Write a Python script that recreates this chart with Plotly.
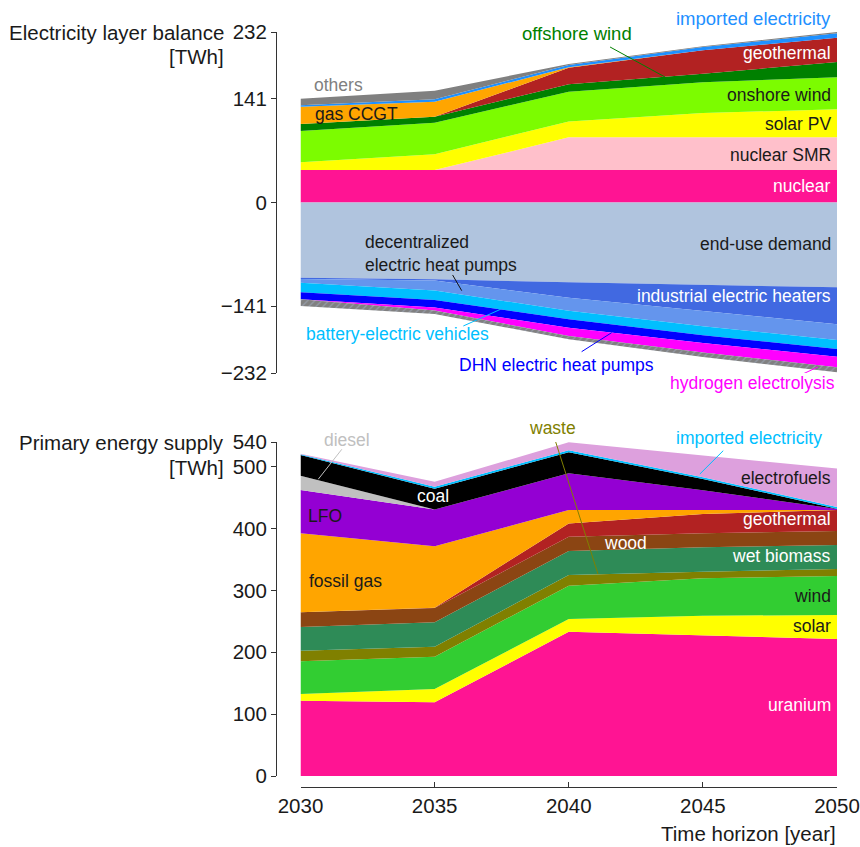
import plotly.graph_objects as go

years = [2030, 2035, 2040, 2045, 2050]

# Electricity layer balance [TWh] - supply side (stacked upward)
elec_nuclear = [44.2, 44.2, 44.2, 44.2, 44.2]
elec_nuclear_smr = [0.0, 0.0, 44.5, 44.5, 44.5]
elec_solar_pv = [10.5, 21.4, 21.5, 33.0, 38.1]
elec_onshore_wind = [42.6, 43.0, 40.5, 42.0, 43.5]
elec_offshore_wind = [9.5, 8.1, 10.3, 11.5, 20.9]
elec_geothermal = [0.0, 0.0, 22.5, 32.0, 33.0]
elec_gas_ccgt = [23.5, 20.4, 0.5, 0.0, 0.0]
elec_imported = [1.9, 3.3, 3.0, 4.5, 6.0]
elec_others = [9.0, 11.7, 1.5, 1.0, 1.8]

# Electricity layer balance [TWh] - consumption side (stacked downward)
elec_end_use = [-102.3, -104.5, -108.6, -112.2, -115.4]
elec_industrial_heaters = [-1.7, -1.8, -20.9, -35.5, -50.3]
elec_decentral_hp = [-5.1, -13.6, -17.7, -20.8, -21.4]
elec_bev = [-13.1, -12.7, -11.8, -12.3, -12.2]
elec_dhn_hp = [-9.5, -10.4, -11.3, -10.4, -10.5]
elec_h2_electrolysis = [0.0, -4.1, -11.3, -13.0, -14.4]
elec_other_uses = [-9.1, -4.5, -4.5, -6.0, -6.8]

# Primary energy supply [TWh]
prim_uranium = [121.7, 119.1, 233.3, 227.5, 221.5]
prim_solar = [10.9, 21.6, 20.5, 31.7, 38.8]
prim_wind = [52.8, 52.2, 53.8, 60.4, 63.1]
prim_waste = [17.2, 16.2, 17.2, 10.8, 11.3]
prim_wet_biomass = [38.3, 39.4, 38.8, 39.3, 38.8]
prim_wood = [23.8, 23.1, 23.2, 22.7, 22.6]
prim_geothermal = [0.0, 0.5, 21.6, 31.0, 34.0]
prim_fossil_gas = [127.7, 99.3, 21.6, 6.5, 0.0]
prim_lfo = [70.0, 59.3, 59.3, 32.0, 1.5]
prim_diesel = [23.1, 0.0, 0.0, 0.0, 0.0]
prim_coal = [33.5, 33.9, 34.0, 18.3, 0.5]
prim_imported = [1.0, 3.0, 3.2, 3.0, 3.0]
prim_electrofuels = [1.0, 8.0, 13.0, 35.0, 62.0]

elec_ticks = [-232, -141, 0, 141, 232]
elec_ticktext = ["\u2212232", "\u2212141", "0", "141", "232"]
prim_ticks = [0, 100, 200, 300, 400, 500, 540]

FONT = "Arial, 'Liberation Sans', sans-serif"
W, H = 860, 847
LABEL = 17.5
AXFONT = 20.5


def px_x(p):
    return p / W


def px_y(p):
    return 1 - p / H


X_DOM = [px_x(300.5), px_x(837)]
X_RANGE = [2030, 2050]
Y1_DOM = [px_y(373), px_y(32)]
Y1_RANGE = [-232, 232]
Y2_DOM = [px_y(776), px_y(442)]
Y2_RANGE = [0, 540]
Y_POS = px_x(276)
AXCOL = "#333333"
TXT = "#1a1a1a"


def to_paper(v, dom, rng):
    return dom[0] + (v - rng[0]) / (rng[1] - rng[0]) * (dom[1] - dom[0])


fig = go.Figure()


def stack(xa, ya, group, name, values, color, pattern=None):
    kw = {}
    if pattern is not None:
        kw["fillpattern"] = pattern
    fig.add_trace(go.Scatter(
        x=years, y=values, xaxis=xa, yaxis=ya, stackgroup=group, name=name,
        mode="lines", line=dict(width=0, color=color), fillcolor=color,
        hoverinfo="skip", **kw))


# electricity supply
for name, vals, col in [
    ("nuclear", elec_nuclear, "#FF1493"),
    ("nuclear SMR", elec_nuclear_smr, "#FFC0CB"),
    ("solar PV", elec_solar_pv, "#FFFF00"),
    ("onshore wind", elec_onshore_wind, "#7CFC00"),
    ("offshore wind", elec_offshore_wind, "#008000"),
    ("geothermal", elec_geothermal, "#B22222"),
    ("gas CCGT", elec_gas_ccgt, "#FFA500"),
    ("imported electricity", elec_imported, "#1E90FF"),
    ("others", elec_others, "#808080"),
]:
    stack("x", "y", "supply", name, vals, col)

# electricity consumption
for name, vals, col in [
    ("end-use demand", elec_end_use, "#B0C4DE"),
    ("industrial electric heaters", elec_industrial_heaters, "#4169E1"),
    ("decentralized electric heat pumps", elec_decentral_hp, "#6495ED"),
    ("battery-electric vehicles", elec_bev, "#00BFFF"),
    ("DHN electric heat pumps", elec_dhn_hp, "#0000FF"),
    ("hydrogen electrolysis", elec_h2_electrolysis, "#FF00FF"),
]:
    stack("x", "y", "demand", name, vals, col)
stack("x", "y", "demand", "other uses", elec_other_uses, "#808080",
      pattern=dict(shape="/", bgcolor="#808080", fgcolor="#A8B8D0", size=5, solidity=0.25))

# primary energy
for name, vals, col in [
    ("uranium", prim_uranium, "#FF1493"),
    ("solar", prim_solar, "#FFFF00"),
    ("wind", prim_wind, "#32CD32"),
    ("waste", prim_waste, "#808000"),
    ("wet biomass", prim_wet_biomass, "#2E8B57"),
    ("wood", prim_wood, "#8B4513"),
    ("geothermal", prim_geothermal, "#B22222"),
    ("fossil gas", prim_fossil_gas, "#FFA500"),
    ("LFO", prim_lfo, "#9400D3"),
    ("diesel", prim_diesel, "#C0C0C0"),
    ("coal", prim_coal, "#000000"),
    ("imported electricity", prim_imported, "#00BFFF"),
    ("electrofuels", prim_electrofuels, "#DDA0DD"),
]:
    stack("x2", "y2", "primary", name, vals, col)

common_y = dict(anchor="free", position=Y_POS, ticks="outside", ticklen=5, tickwidth=1,
                tickcolor=AXCOL, showline=True, linecolor=AXCOL, linewidth=1,
                showgrid=False, zeroline=False, automargin=False,
                tickfont=dict(size=AXFONT, color=TXT))

fig.update_layout(
    width=W, height=H, margin=dict(l=0, r=0, t=0, b=0, pad=0), autosize=False,
    paper_bgcolor="white", plot_bgcolor="white", showlegend=False,
    font=dict(family=FONT, size=AXFONT, color=TXT),
    xaxis=dict(domain=X_DOM, range=X_RANGE, visible=False, anchor="y", automargin=False),
    yaxis=dict(domain=Y1_DOM, range=Y1_RANGE,
               tickvals=elec_ticks, ticktext=elec_ticktext, **common_y),
    xaxis2=dict(domain=X_DOM, range=X_RANGE, anchor="free", position=px_y(787),
                tickvals=years, ticks="inside", ticklen=5, tickwidth=1, tickcolor=AXCOL,
                showline=True, linecolor=AXCOL, linewidth=1, showgrid=False,
                zeroline=False, automargin=False, tickfont=dict(size=AXFONT, color=TXT)),
    yaxis2=dict(domain=Y2_DOM, range=Y2_RANGE,
                tickvals=prim_ticks, **common_y),
)


def label(text, x, y, panel=None, color=TXT, anchor="right", size=LABEL):
    """Place a text label; panel 1/2 means x, y are in that panel's data units."""
    if panel is not None:
        yd, yr = (Y1_DOM, Y1_RANGE) if panel == 1 else (Y2_DOM, Y2_RANGE)
        x = to_paper(x, X_DOM, X_RANGE)
        y = to_paper(y, yd, yr)
    fig.add_annotation(text=text, x=x, y=y, xref="paper", yref="paper", showarrow=False,
                       xanchor=anchor, yanchor="middle", align=anchor,
                       font=dict(size=size, color=color, family=FONT))


def leader(x0, y0, x1, y1, xr, yr, color):
    fig.add_shape(type="line", x0=x0, y0=y0, x1=x1, y1=y1, xref=xr, yref=yr,
                  line=dict(color=color, width=1))


# axis titles
label("Electricity layer balance", px_x(226), px_y(32), size=AXFONT)
label("[TWh]", px_x(226), px_y(57), size=AXFONT)
label("Primary energy supply", px_x(226), px_y(442), size=AXFONT)
label("[TWh]", px_x(226), px_y(467), size=AXFONT)
label("Time horizon [year]", px_x(838), px_y(833), size=AXFONT)

# electricity layer labels
XR = 2049.85
label("imported electricity", XR, 251, 1, color="#1E90FF", size=18.5)
label("geothermal", XR, 203.4, 1, color="white")
label("onshore wind", XR, 146.3, 1)
label("solar PV", XR, 106.8, 1)
label("nuclear SMR", XR, 64.6, 1)
label("nuclear", XR, 22.4, 1, color="white")
label("end-use demand", XR, -56.5, 1)
label("industrial electric heaters", XR, -127.2, 1, color="white")
label("hydrogen electrolysis", 2050, -245.6, 1, color="#FF00FF")
label("DHN electric heat pumps", 2035.83, -221, 1, color="#0000FF", anchor="left")
label("battery-electric vehicles", 2030.13, -178.9, 1, color="#00BFFF", anchor="left")
label("decentralized<br>electric heat pumps", 2032.33, -70, 1, anchor="left")
label("others", 2030.43, 159.9, 1, color="#808080", anchor="left")
label("gas CCGT", 2030.47, 120.4, 1, anchor="left")
label("offshore wind", 2040.31, 230.6, 1, color="#008000", anchor="center", size=18.5)

leader(2041.54, 211.6, 2043.59, 170.7, "x", "y", "#008000")
leader(2035.67, -98.6, 2036.01, -120, "x", "y", "#111111")
leader(2036.07, -168, 2037.46, -145.3, "x", "y", "#00BFFF")
leader(2040.48, -203, 2041.6, -177.1, "x", "y", "#0000FF")
leader(2048.73, -233.3, 2049.29, -223.8, "x", "y", "#FF00FF")

# primary energy labels
label("diesel", 2030.8, 543.2, 2, color="#C0C0C0", anchor="left")
label("coal", 2034.94, 452.7, 2, color="white", anchor="center")
label("LFO", 2030.2, 420.4, 2, anchor="left")
label("fossil gas", 2030.24, 315.3, 2, anchor="left")
label("waste", 2039.41, 562.6, 2, color="#808000", anchor="center")
label("imported electricity", 2049.52, 546.5, 2, color="#00BFFF")
label("electrofuels", XR, 481.8, 2)
label("geothermal", XR, 415.5, 2, color="white")
label("wood", 2041.24, 376.7, 2, color="white", anchor="left")
label("wet biomass", XR, 355.7, 2, color="white")
label("wind", XR, 291, 2)
label("solar", XR, 242.5, 2)
label("uranium", XR, 114.8, 2, color="white")

leader(2031.54, 528.2, 2030.66, 479.7, "x2", "y2", "#C0C0C0")
leader(2039.49, 543.2, 2041.09, 326.6, "x2", "y2", "#808000")
leader(2045.76, 526, 2044.89, 488.3, "x2", "y2", "#00BFFF")

fig.write_html("out.html")
